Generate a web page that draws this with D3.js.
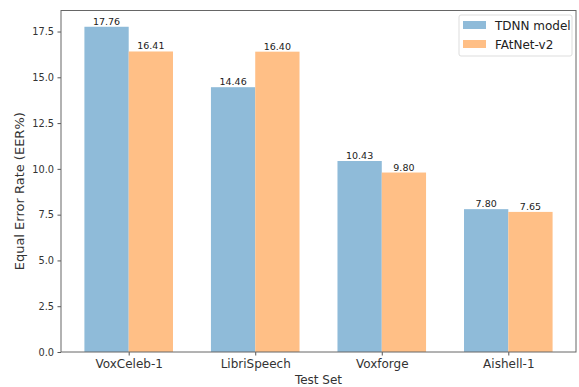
<!DOCTYPE html>
<html><head><meta charset="utf-8">
<script src="https://cdn.jsdelivr.net/npm/d3@7"></script>
<style>body{margin:0;background:#fff;} svg{display:block;font-family:"DejaVu Sans",sans-serif;}</style>
</head><body>
<script>
const categories = ["VoxCeleb-1", "LibriSpeech", "Voxforge", "Aishell-1"];
const tdnn = [17.76, 14.46, 10.43, 7.80];
const fatnet = [16.41, 16.40, 9.80, 7.65];
const seriesNames = ["TDNN model", "FAtNet-v2"];
const yTicks = [0, 2.5, 5, 7.5, 10, 12.5, 15, 17.5];

const W = 579, H = 387;
const L = 61, R = 576, T = 10.5, B = 352;
const bw = 0.35;
const svg = d3.select("body").append("svg").attr("width", W).attr("height", H);

const x = d3.scaleLinear().domain([-0.535, categories.length - 1 + 0.535]).range([L, R]);
const ymax = d3.max(tdnn.concat(fatnet)) * 1.05;
const y = d3.scaleLinear().domain([0, ymax]).range([B, T]);

const colors = ["rgb(143,187,217)", "rgb(255,191,134)"];
const series = [tdnn, fatnet];
const offs = [-bw, 0];

series.forEach((vals, s) => {
  svg.append("g").selectAll("rect").data(vals).join("rect")
    .attr("x", (d, i) => x(i + offs[s]))
    .attr("width", (d, i) => x(i + offs[s] + bw) - x(i + offs[s]))
    .attr("y", d => y(d))
    .attr("height", d => y(0) - y(d))
    .attr("fill", colors[s]);
  svg.append("g").selectAll("text").data(vals).join("text")
    .attr("x", (d, i) => x(i + offs[s] + bw / 2))
    .attr("y", d => y(d) - 2)
    .attr("text-anchor", "middle")
    .attr("font-size", 9.5)
    .attr("fill", "#222")
    .text(d => d.toFixed(2));
});

// axes
const yAxis = d3.axisLeft(y).tickValues(yTicks).tickFormat(d3.format(".1f")).tickSize(3.5).tickPadding(3.5);
const gy = svg.append("g").attr("transform", `translate(${L},0)`).call(yAxis);
gy.select(".domain").remove();
gy.selectAll("text").attr("font-size", 9.8).attr("fill", "#333").attr("font-family", "DejaVu Sans");
gy.selectAll("line").attr("stroke", "#555");

const xAxis = d3.axisBottom(x).tickValues(d3.range(categories.length)).tickFormat(i => categories[i]).tickSize(3.5).tickPadding(3.5);
const gx = svg.append("g").attr("transform", `translate(0,${B})`).call(xAxis);
gx.select(".domain").remove();
gx.selectAll("text").attr("font-size", 12).attr("fill", "#333").attr("font-family", "DejaVu Sans");
gx.selectAll("line").attr("stroke", "#555");

// frame
svg.append("rect").attr("x", L).attr("y", T).attr("width", R - L).attr("height", B - T)
  .attr("fill", "none").attr("stroke", "#666").attr("stroke-width", 1);

// axis labels
svg.append("text").attr("x", (L + R) / 2).attr("y", 384).attr("text-anchor", "middle")
  .attr("font-size", 12).attr("fill", "#333").text("Test Set");
svg.append("text").attr("transform", `translate(24,${(T + B) / 2 + 10}) rotate(-90)`).attr("text-anchor", "middle")
  .attr("font-size", 13).attr("fill", "#333").text("Equal Error Rate (EER%)");

// legend
const lg = svg.append("g");
lg.append("rect").attr("x", 459).attr("y", 15).attr("width", 113).attr("height", 41).attr("rx", 2)
  .attr("fill", "#fff").attr("fill-opacity", 0.8).attr("stroke", "#ddd");
seriesNames.forEach((n, i) => {
  lg.append("rect").attr("x", 463).attr("y", 21 + i * 19).attr("width", 23).attr("height", 8).attr("fill", colors[i]);
  lg.append("text").attr("x", 495).attr("y", 29.5 + i * 19).attr("font-size", 12).attr("fill", "#222").text(n);
});
</script>
</body></html>
